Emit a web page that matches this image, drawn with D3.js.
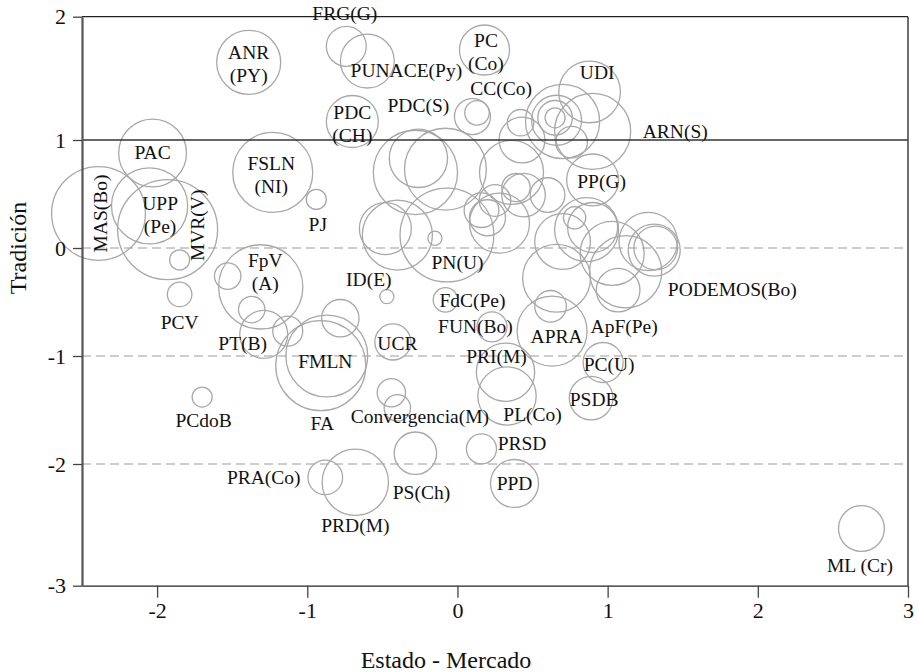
<!DOCTYPE html>
<html>
<head>
<meta charset="utf-8">
<script src="https://cdn.jsdelivr.net/npm/d3@7"></script>
<style>
  html, body { margin: 0; padding: 0; background: #fff; }
  svg { display: block; }
  text { font-family: "Liberation Serif", "DejaVu Serif", serif; fill: #111; }
</style>
</head>
<body>
<svg id="chart" width="918" height="672"></svg>
<script>
// ---- data ----
const partyNames = [
  "MAS(Bo)","PAC","UPP(Pe)","MVR(V)","","PCV","PCdoB","ANR(PY)","FSLN(NI)","PJ",
  "FRG(G)","PUNACE(Py)","PDC(CH)","FpV(A)","","","PT(B)","","FMLN","FA",
  "","UCR","ID(E)","Convergencia(M)","","PS(Ch)","PRA(Co)","PRD(M)","PRSD","PPD",
  "PRI(M)","PL(Co)","FdC(Pe)","FUN(Bo)","APRA","","PC(U)","PSDB","ML (Cr)","PC(Co)",
  "UDI","CC(Co)","","","","","","","","PN(U)",
  "","ARN(S)","","","","","","PP(G)","","",
  "","","","","PODEMOS(Bo)","","","ApF(Pe)","","",
  "","","","","","","","PDC(S)"
];
const estadoMercado = [
  -2.39,-2.03,-2.05,-1.93,-1.85,-1.85,-1.70,-1.39,-1.23,-0.94,
  -0.74,-0.60,-0.70,-1.31,-1.53,-1.37,-1.29,-1.13,-0.87,-0.91,
  -0.78,-0.43,-0.47,-0.44,-0.40,-0.28,-0.88,-0.68,0.16,0.38,
  0.32,0.33,-0.08,0.23,0.63,0.62,0.97,0.89,2.69,0.18,
  0.88,0.10,0.13,-0.28,-0.08,-0.26,-0.15,-0.48,-0.40,-0.07,
  0.70,0.90,0.65,0.65,0.66,0.42,0.43,0.90,0.76,0.70,
  0.86,0.90,0.78,1.03,1.27,1.31,1.32,1.12,1.07,0.66,
  0.16,0.25,0.39,0.36,0.20,0.60,0.44,0.28
];
const tradicion = [
  0.32,0.88,0.39,0.17,-0.11,-0.43,-1.38,1.63,0.70,0.45,
  1.76,1.64,1.15,-0.36,-0.26,-0.57,-0.80,-0.77,-1.00,-1.09,
  -0.65,-0.87,-0.45,-1.34,-1.48,-1.90,-2.11,-2.15,-1.86,-2.16,
  -1.15,-1.37,-0.48,-0.73,-0.77,-0.54,-1.06,-1.39,-2.53,1.73,
  1.39,1.19,1.22,0.70,0.73,0.83,0.09,0.18,0.12,0.12,
  1.15,1.07,1.18,1.18,1.16,1.14,1.00,0.63,0.98,0.06,
  0.17,0.19,0.28,-0.05,0.06,-0.02,0.00,-0.22,-0.39,-0.28,
  0.35,0.44,0.56,0.70,0.28,0.49,0.49,0.23
];
const bubbleSize = [
  88,46,58,100,4,6,4,41,64,4,
  16,29,27,71,7,7,23,9,67,81,
  14,13,2,8,7,18,12,44,9,23,
  34,34,6,9,49,10,16,19,21,25,
  38,13,6,71,67,34,2,27,49,88,
  55,58,4,12,25,7,21,27,10,31,
  41,25,5,41,34,27,19,52,19,46,
  12,10,8,41,13,12,19,36
];

// label annotations: text, position in data units, rotation
const labelText = [
  "FRG(G)","ANR\n(PY)","PUNACE(Py)","PC\n(Co)","CC(Co)","UDI","PDC(S)","PDC\n(CH)","ARN(S)","PAC",
  "FSLN\n(NI)","PP(G)","MAS(Bo)","UPP\n(Pe)","MVR(V)","PJ","FpV\n(A)","ID(E)","PN(U)","PODEMOS(Bo)",
  "FdC(Pe)","FUN(Bo)","ApF(Pe)","PCV","PT(B)","UCR","APRA","FMLN","PRI(M)","PC(U)",
  "PSDB","PCdoB","FA","Convergencia(M)","PL(Co)","PRSD","PRA(Co)","PPD","PS(Ch)","PRD(M)",
  "ML (Cr)"
];
const labelX = [
  -0.75,-1.39,-0.34,0.19,0.29,0.93,-0.26,-0.70,1.45,-2.03,
  -1.24,0.96,-2.38,-1.98,-1.73,-0.93,-1.28,-0.59,0.00,1.83,
  0.10,0.12,1.11,-1.85,-1.43,-0.40,0.66,-0.88,0.26,1.01,
  0.91,-1.69,-0.90,-0.25,0.50,0.43,-1.29,0.38,-0.24,-0.68,
  2.68
];
const labelY = [
  2.03,1.62,1.57,1.72,1.42,1.55,1.28,1.13,1.07,0.89,
  0.68,0.62,0.32,0.31,0.21,0.22,-0.22,-0.29,-0.13,-0.38,
  -0.48,-0.72,-0.72,-0.69,-0.88,-0.88,-0.82,-1.05,-1.00,-1.08,
  -1.40,-1.59,-1.62,-1.56,-1.54,-1.81,-2.11,-2.16,-2.23,-2.50,
  -2.83
];
const labelRotate = [
  0,0,0,0,0,0,0,0,0,0,
  0,0,-90,0,-90,0,0,0,0,0,
  0,0,0,0,0,0,0,0,0,0,
  0,0,0,0,0,0,0,0,0,0,
  0
];

const xTicks = [-2,-1,0,1,2,3];
const yTicks = [-3,-2,-1,0,1,2];
const dashedLevels = [0,-1,-2];
const solidLevels = [1];
const xTitle = "Estado - Mercado";
const yTitle = "Tradición";

// ---- drawing ----
const svg = d3.select("#chart");
const x = d3.scaleLinear().domain([-2.5, 3]).range([82, 908]);
const y = d3.scaleLinear().domain([-3, -2, 1, 2]).range([585.7, 464, 140, 16.7]);
const r = d3.scaleSqrt().domain([0, 100]).range([0, 50]);

const [x0, x1] = x.range();
const yTop = y(2), yBot = y(-3);

// frame top + right
svg.append("line").attr("x1", x0).attr("x2", x1).attr("y1", yTop).attr("y2", yTop)
  .attr("stroke", "#222").attr("stroke-width", 1.3);
svg.append("line").attr("x1", x1).attr("x2", x1).attr("y1", yTop).attr("y2", yBot)
  .attr("stroke", "#222").attr("stroke-width", 1.3);

// dashed reference lines
svg.selectAll("line.dash").data(dashedLevels).join("line")
  .attr("class", "dash")
  .attr("x1", x0).attr("x2", x1)
  .attr("y1", d => y(d)).attr("y2", d => y(d))
  .attr("stroke", "#bdbdbd").attr("stroke-width", 1.5)
  .attr("stroke-dasharray", "9,5");

// bubbles
const pts = partyNames.map((n, i) => ({ n, x: estadoMercado[i], y: tradicion[i], s: bubbleSize[i] }));
svg.append("g").selectAll("circle").data(pts).join("circle")
  .attr("cx", d => x(d.x)).attr("cy", d => y(d.y)).attr("r", d => r(d.s))
  .attr("fill", "none").attr("stroke", "#a8a8a8").attr("stroke-width", 1.3);

// solid reference line
svg.selectAll("line.solid").data(solidLevels).join("line")
  .attr("class", "solid")
  .attr("x1", x0).attr("x2", x1)
  .attr("y1", d => y(d)).attr("y2", d => y(d))
  .attr("stroke", "#333").attr("stroke-width", 1.6);

// axes
const gx = svg.append("g").attr("transform", `translate(0,${yBot})`)
  .call(d3.axisBottom(x).tickValues(xTicks).tickSize(12).tickSizeOuter(0).tickPadding(5)
    .tickFormat(d => String(d)));
gx.attr("font-size", null).attr("font-family", null);
gx.select(".domain").attr("stroke", "#222").attr("stroke-width", 1.3);
gx.selectAll(".tick line").attr("stroke", "#444").attr("stroke-width", 1.3);
gx.selectAll(".tick text").style("font-family", "'Liberation Serif', serif").style("font-size", "22px").attr("fill", "#111");

const gy = svg.append("g").attr("transform", `translate(${x0},0)`)
  .call(d3.axisLeft(y).tickValues(yTicks).tickSize(9).tickSizeOuter(0).tickPadding(7)
    .tickFormat(d => String(d)));
gy.attr("font-size", null).attr("font-family", null);
gy.select(".domain").attr("stroke", "#555").attr("stroke-width", 2.2);
gy.selectAll(".tick line").attr("stroke", "#444").attr("stroke-width", 1.3);
gy.selectAll(".tick text").style("font-family", "'Liberation Serif', serif").style("font-size", "22px").attr("fill", "#111");

// axis titles
svg.append("text").attr("x", 446).attr("y", 660).attr("text-anchor", "middle")
  .attr("dominant-baseline", "central").style("font-size", "24px").text(xTitle);
svg.append("text").attr("transform", `translate(18,${y(0)}) rotate(-90)`)
  .attr("text-anchor", "middle").attr("dominant-baseline", "central")
  .style("font-size", "24px").text(yTitle);

// labels
const labs = labelText.map((t, i) => ({ t, x: labelX[i], y: labelY[i], rot: labelRotate[i] }));
const lg = svg.append("g");
labs.forEach(d => {
  const lines = d.t.split("\n");
  const lh = 23;
  const t = lg.append("text")
    .attr("transform", `translate(${x(d.x)},${y(d.y)}) rotate(${d.rot})`)
    .attr("text-anchor", "middle")
    .style("font-size", "19.5px");
  lines.forEach((ln, k) => {
    t.append("tspan").attr("x", 0)
      .attr("y", (k - (lines.length - 1) / 2) * lh)
      .attr("dy", "0.35em")
      .text(ln);
  });
});
</script>
</body>
</html>
